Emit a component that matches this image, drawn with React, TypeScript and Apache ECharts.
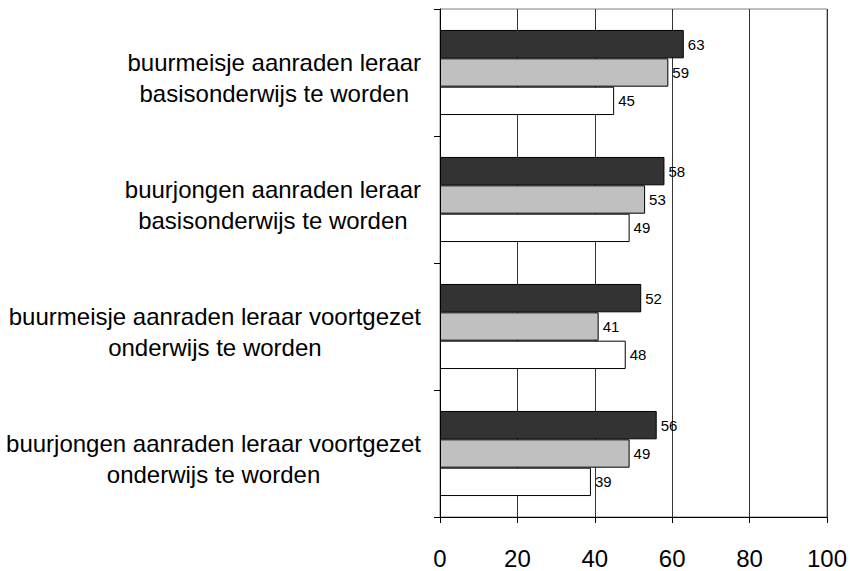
import React, { useEffect, useRef } from "react";
import * as echarts from "echarts";

const categories = [
  "buurmeisje aanraden leraar\nbasisonderwijs te worden",
  "buurjongen aanraden leraar\nbasisonderwijs te worden",
  "buurmeisje aanraden leraar voortgezet\nonderwijs te worden",
  "buurjongen aanraden leraar voortgezet\nonderwijs te worden",
];
const seriesDark = [63, 58, 52, 56];
const seriesGray = [59, 53, 41, 49];
const seriesWhite = [45, 49, 48, 39];
const xTicks = [0, 20, 40, 60, 80, 100];

const FONT = "'Liberation Sans', Arial, Helvetica, sans-serif";

export default function App() {
  const ref = useRef<HTMLDivElement>(null);
  useEffect(() => {
    if (!ref.current) return;
    const chart = echarts.init(ref.current, undefined, { renderer: "svg" });
    const mk = (name: string, data: number[], color: string) => ({
      name,
      type: "bar",
      data,
      barGap: "0%",
      barCategoryGap: "33%",
      itemStyle: { color, borderColor: "#000", borderWidth: 1 },
      label: {
        show: true,
        position: "right",
        distance: 4,
        color: "#000",
        fontFamily: FONT,
        fontSize: 15,
      },
    });
    chart.setOption({
      animation: false,
      backgroundColor: "#fff",
      grid: {
        left: 440,
        top: 9,
        width: 388,
        height: 508,
        show: true,
        borderColor: "#808080",
        borderWidth: 1,
      },
      xAxis: {
        type: "value",
        min: xTicks[0],
        max: xTicks[xTicks.length - 1],
        interval: 20,
        axisLine: { show: true, lineStyle: { color: "#000" } },
        axisTick: { show: true, length: 6, lineStyle: { color: "#000" } },
        splitLine: { show: true, lineStyle: { color: "#333" } },
        axisLabel: {
          color: "#000",
          fontFamily: FONT,
          fontSize: 24,
          margin: 29,
        },
      },
      yAxis: {
        type: "category",
        data: categories,
        inverse: true,
        axisLine: { show: true, lineStyle: { color: "#000" } },
        axisTick: { show: true, length: 6, lineStyle: { color: "#000" } },
        splitLine: { show: false },
        axisLabel: {
          margin: 19,
          formatter: (v: string) =>
            v
              .split("\n")
              .map((l) => "{c|" + l + "}")
              .join("\n"),
          padding: [11, 0, 0, 0],
          rich: {
            c: {
              align: "center",
              color: "#000",
              fontFamily: FONT,
              fontSize: 24,
              lineHeight: 31,
            },
          },
        },
      },
      series: [
        mk("dark", seriesDark, "#333333"),
        mk("gray", seriesGray, "#c0c0c0"),
        mk("white", seriesWhite, "#ffffff"),
      ],
    });
    return () => chart.dispose();
  }, []);
  return (
    <div
      ref={ref}
      style={{ position: "absolute", left: 0, top: 0, width: 850, height: 571 }}
    />
  );
}
